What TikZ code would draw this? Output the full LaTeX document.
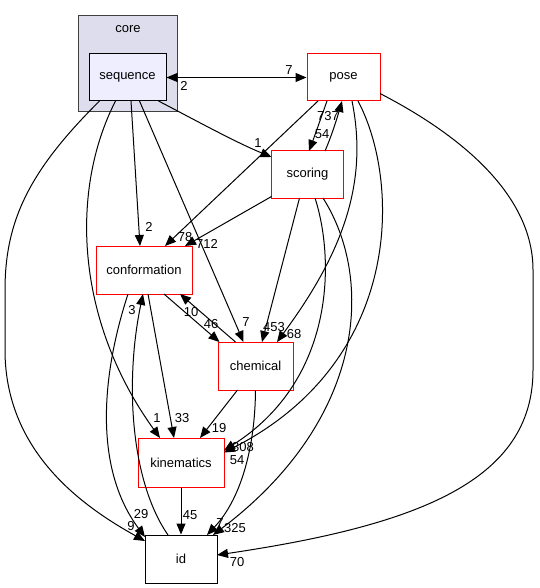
\documentclass[tikz,border=0pt]{standalone}
\usepackage{fontspec}
\setmainfont{Liberation Sans}
\usetikzlibrary{arrows.meta,calc}
\definecolor{clusterfill}{HTML}{DDDDEE}
\definecolor{seqfill}{HTML}{EEEEFF}
\definecolor{pkgred}{HTML}{FF0000}
\begin{document}
\begin{tikzpicture}[x=1pt,y=-1pt,
  box/.style={rectangle, inner sep=0pt, line width=1pt, font=\fontsize{13}{15}\selectfont},
  redbox/.style={box, draw=pkgred, fill=white},
  lbl/.style={font=\fontsize{13}{15}\selectfont, inner sep=0pt},
  dep/.style={line width=1pt, -{Triangle[length=11pt,width=9pt]}},
  bidep/.style={line width=1pt, {Triangle[length=11pt,width=9pt]}-{Triangle[length=11pt,width=9pt]}}
]
\useasboundingbox (0,0) rectangle (539,588);
% cluster
\node[box, draw=black!75, fill=clusterfill, minimum width=99pt, minimum height=96pt] (core) at (127.5,64) {};
\node[lbl] (corelbl) at (128,29) {core};
% nodes
\node[box, draw=black, fill=seqfill, minimum width=77pt, minimum height=47pt] (seq) at (127.5,77.5) {sequence};
\node[redbox, minimum width=73pt, minimum height=47pt] (pose) at (343.5,77.5) {pose};
\node[redbox, minimum width=72pt, minimum height=47pt] (scoring) at (307.5,174.5) {scoring};
\node[redbox, minimum width=96pt, minimum height=48pt] (conf) at (144,270) {conformation};
\node[redbox, minimum width=75pt, minimum height=48pt] (chem) at (255.5,366) {chemical};
\node[redbox, minimum width=86pt, minimum height=49pt] (kin) at (181,462.5) {kinematics};
\node[box, draw=black, fill=white, minimum width=72pt, minimum height=48pt] (id) at (181,559) {id};

% edges
\draw[bidep] (seq.east) -- (pose.west);
\draw[dep] ($(seq)+(31,23.5)$) .. controls (195,120) and (235,142) .. ($(scoring)+(-36,-17.5)$);
\draw[dep] ($(seq)+(3.5,23.5)$) -- ($(conf)+(-4,-24)$);
\draw[dep] ($(seq)+(12,23.5)$) -- ($(chem)+(-12,-24)$);
\draw[dep] ($(seq)+(-12,23.5)$) .. controls (70,190) and (75,320) .. ($(kin)+(-21,-24.5)$);
\draw[dep] ($(seq)+(-28,23.5)$) .. controls (30,170) and (5,220) .. (5,290) -- (5,350) .. controls (5,450) and (80,505) .. ($(id)+(-36,-18)$);
\draw[dep] ($(pose)+(-25.5,23.5)$) -- ($(conf)+(21,-24)$);
\draw[dep] ($(pose)+(-16.5,23.5)$) .. controls (322,115) and (315,135) .. ($(scoring)+(1.5,-23.5)$);
\draw[dep] ($(scoring)+(17.5,-23.5)$) .. controls (332,135) and (338,115) .. ($(pose)+(-1.5,23.5)$);
\draw[dep] ($(scoring)+(-36,22)$) -- ($(conf)+(41,-24)$);
\draw[dep] ($(scoring)+(-8,23.5)$) -- ($(chem)+(6.5,-24)$);
\draw[dep] ($(pose)+(8.5,23.5)$) .. controls (368,180) and (345,250) .. ($(chem)+(21.5,-24)$);
\draw[dep] ($(pose)+(14.5,23.5)$) .. controls (400,180) and (405,360) .. ($(kin)+(43,-10)$);
\draw[dep] ($(scoring)+(7.5,23.5)$) .. controls (335,260) and (335,380) .. ($(kin)+(43,-12)$);
\draw[dep] ($(scoring)+(15.5,23.5)$) .. controls (375,280) and (365,420) .. ($(id)+(32,-24)$);
\draw[dep] ($(chem)+(0,24)$) .. controls (255,450) and (240,500) .. ($(id)+(26,-24)$);
\draw[dep] ($(conf)+(-16,24)$) .. controls (100,380) and (95,470) .. ($(id)+(-36,-22)$);
\draw[dep] ($(id)+(-13,-24)$) .. controls (130,480) and (125,380) .. ($(conf)+(-1,24)$);
\draw[dep] ($(conf)+(4,24)$) -- ($(kin)+(-7,-24.5)$);
\draw[dep] ($(conf)+(20,24)$) -- ($(chem)+(-36,-24)$);
\draw[dep] ($(chem)+(-20,-24)$) -- ($(conf)+(36,24)$);
\draw[dep] ($(chem)+(-18,24)$) -- ($(kin)+(19,-24.5)$);
\draw[dep] (kin.south) -- (id.north);
\draw[dep] ($(pose)+(36.5,16)$) .. controls (470,140) and (533,200) .. (533,270) -- (533,370) .. controls (533,480) and (420,525) .. ($(id)+(36,-4)$);

% labels
\node[lbl] (l1) at (289,70) {7};
\node[lbl] (l2) at (184,86) {2};
\node[lbl] (l3) at (258,143) {1};
\node[lbl] (l4) at (149,227) {2};
\node[lbl] (l5) at (185,237) {78};
\node[lbl] (l6) at (207,244) {712};
\node[lbl] (l7) at (328,116) {737};
\node[lbl] (l8) at (322,134) {54};
\node[lbl] (l9) at (246,322) {7};
\node[lbl] (l10) at (191,312) {10};
\node[lbl] (l11) at (211,324) {46};
\node[lbl] (l12) at (274,327) {453};
\node[lbl] (l13) at (294,334) {68};
\node[lbl] (l14) at (132,310) {3};
\node[lbl] (l15) at (157,418) {1};
\node[lbl] (l16) at (182,418) {33};
\node[lbl] (l17) at (219,428) {19};
\node[lbl] (l18) at (243,447) {308};
\node[lbl] (l19) at (237,460) {54};
\node[lbl] (l20) at (141,514) {29};
\node[lbl] (l21) at (131,526) {9};
\node[lbl] (l22) at (190,515) {45};
\node[lbl] (l23) at (220,523) {7};
\node[lbl] (l24) at (235,528) {325};
\node[lbl] (l25) at (237,562) {70};
\end{tikzpicture}
\end{document}
